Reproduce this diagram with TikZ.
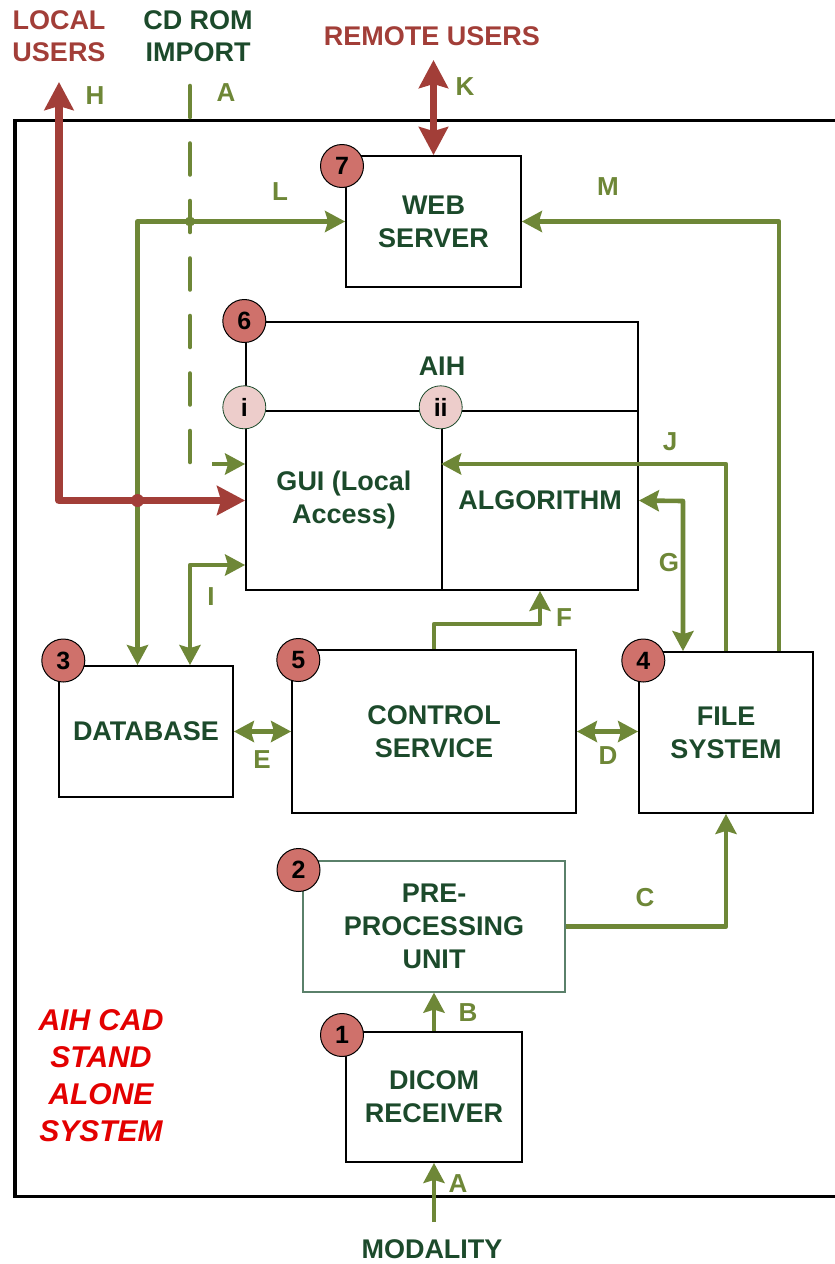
\documentclass[tikz,border=0pt]{standalone}
\usepackage{fontspec}
\setmainfont{Liberation Sans}
\usetikzlibrary{arrows.meta,calc}
\definecolor{gline}{HTML}{6E8737}
\definecolor{rline}{HTML}{A23E38}
\definecolor{dgreen}{HTML}{1C4A2B}
\definecolor{badgecol}{HTML}{CF716B}
\definecolor{pinkcol}{HTML}{EDCDCB}
\definecolor{alarmred}{HTML}{E30000}
\definecolor{preline}{HTML}{5A806A}
\begin{document}
\begin{tikzpicture}[x=1pt,y=-1pt,
  box/.style={draw=black,line width=1.8pt,inner sep=0pt,align=center,text=dgreen,
    font=\fontsize{27}{33}\selectfont\bfseries},
  badge/.style={circle,draw=black,line width=1pt,fill=badgecol,minimum size=43pt,inner sep=0pt,
    font=\fontsize{25}{25}\selectfont\bfseries,text=black},
  subbadge/.style={circle,draw=dgreen,line width=0.8pt,fill=pinkcol,minimum size=43pt,inner sep=0pt,
    font=\fontsize{25}{25}\selectfont\bfseries,text=black},
  lbl/.style={text=gline,inner sep=0pt,font=\fontsize{26}{30}\selectfont\bfseries},
  toptxt/.style={inner sep=0pt,align=center,font=\fontsize{27}{32}\selectfont\bfseries},
  garr/.style={draw=gline,line width=4.6pt,line join=round,
    >={Stealth[length=20pt,width=21pt,inset=3pt]}},
  rarr/.style={draw=rline,line width=7.5pt,line join=round,
    >={Stealth[length=28pt,width=29pt,inset=4pt]}}
]
\useasboundingbox (0,0) rectangle (835,1264);
% outer frame
\draw[line width=3.5pt,line join=miter] (840,120.3) -- (15,120.3) -- (15,1196.5) -- (840,1196.5);

% boxes
\node[box,minimum width=175pt,minimum height=131pt] (web) at (433.5,221.5) {WEB\\SERVER};
\node[draw=black,line width=1.8pt,minimum width=392pt,minimum height=268pt,inner sep=0pt] (aih) at (442,456) {};
\node[text=dgreen,inner sep=0pt,font=\fontsize{27}{33}\selectfont\bfseries] (aihlbl) at (442,366) {AIH};
\node[box,minimum width=196pt,minimum height=179pt] (gui) at (344,500.5) {GUI (Local\\Access)};
\node[box,minimum width=196pt,minimum height=179pt] (alg) at (540,500.5) {ALGORITHM};
\node[box,minimum width=174pt,minimum height=131pt] (db) at (146,731.5) {DATABASE};
\node[box,minimum width=284pt,minimum height=163pt] (cs) at (434,731.5) {CONTROL\\SERVICE};
\node[box,minimum width=174pt,minimum height=161pt] (fs) at (726,732.5) {FILE\\SYSTEM};
\node[box,draw=preline,line width=1.2pt,minimum width=262pt,minimum height=131pt] (pre) at (434,926.5) {PRE-\\PROCESSING\\UNIT};
\node[box,minimum width=176pt,minimum height=130pt] (dicom) at (434,1097) {DICOM\\RECEIVER};

% outside texts
\node[toptxt,text=rline] (local) at (59,36) {LOCAL\\USERS};
\node[toptxt,text=dgreen] (cdrom) at (198,36) {CD ROM\\IMPORT};
\node[toptxt,text=rline] (remote) at (432,36.5) {REMOTE USERS};
\node[toptxt,text=dgreen] (modality) at (432,1249) {MODALITY};
\node[inner sep=0pt,align=center,text=alarmred,font=\fontsize{30}{37}\selectfont\bfseries\itshape] (sys) at (101,1076) {AIH CAD\\STAND\\ALONE\\SYSTEM};

% free-end and bend coordinates
\coordinate (ktop) at (433.5,60);
\coordinate (htop) at (59,82);
\coordinate (cdtop) at (190,86);
\coordinate (cdbot) at (190,463);
\coordinate (cdarr) at (212,464);
\coordinate (lturn) at (137.5,221.5);
\coordinate (iturn) at (190,565);
\coordinate (fturn) at (434,624);
\coordinate (gturn) at (683,501);
\coordinate (jturn) at (726,464);
\coordinate (mturn) at (779,221.5);
\coordinate (modin) at (434,1222);

% connectors
\draw[rarr,<->] (ktop) -- (web.north);
\draw[garr,<->] (lturn |- db.north) -- (lturn) -- (web.west);
\draw[garr,dash pattern=on 31pt off 26.5pt,line cap=round] (cdtop) -- (cdbot);
\fill[gline] (190,221.5) circle (5pt);
\draw[garr,->] (cdarr) -- (cdarr -| gui.west);
\draw[rarr,<->] (htop) -- (htop |- gui.west) -- (gui.west);
\fill[rline] (137.5,500.5) circle (6.5pt);
\draw[garr,<->] (iturn |- db.north) -- (iturn) -- (iturn -| gui.west);
\draw[garr,<->] (db.east) -- (cs.west);
\draw[garr,<->] (cs.east) -- (cs.east -| fs.west);
\draw[garr,->] (cs.north) -- (fturn) -| (alg.south);
\draw[garr,<->] (gturn |- fs.north) -- (gturn) -- (alg.east);
\draw[garr,->] (fs.north) -- (jturn) -- (jturn -| alg.west);
\draw[garr,->] (mturn |- fs.north) -- (mturn) -- (web.east);
\draw[garr,->] (pre.east) -| (fs.south);
\draw[garr,->] (dicom.north) -- (pre.south);
\draw[garr,->] (modin) -- (dicom.south);

% connector labels
\node[lbl] (lH) at (95,96) {H};
\node[lbl] (lA1) at (226,93) {A};
\node[lbl] (lK) at (465,87) {K};
\node[lbl] (lL) at (280,192) {L};
\node[lbl] (lM) at (608,187) {M};
\node[lbl] (lJ) at (670,442) {J};
\node[lbl] (lG) at (669,563) {G};
\node[lbl] (lI) at (211,597) {I};
\node[lbl] (lF) at (564,618) {F};
\node[lbl] (lE) at (262,760) {E};
\node[lbl] (lD) at (608,756) {D};
\node[lbl] (lC) at (645,898) {C};
\node[lbl] (lB) at (468,1013) {B};
\node[lbl] (lA2) at (458,1184) {A};

% number badges
\node[badge] (b7) at (342,166) {7};
\node[badge] (b6) at (244.3,321) {6};
\node[subbadge] (bi) at (244.3,407.3) {i};
\node[subbadge] (bii) at (440.7,407.3) {ii};
\node[badge] (b3) at (63.3,660.5) {3};
\node[badge] (b5) at (298.3,660) {5};
\node[badge] (b4) at (643.3,660.5) {4};
\node[badge] (b2) at (298.5,870) {2};
\node[badge] (b1) at (342,1035) {1};
\end{tikzpicture}
\end{document}
